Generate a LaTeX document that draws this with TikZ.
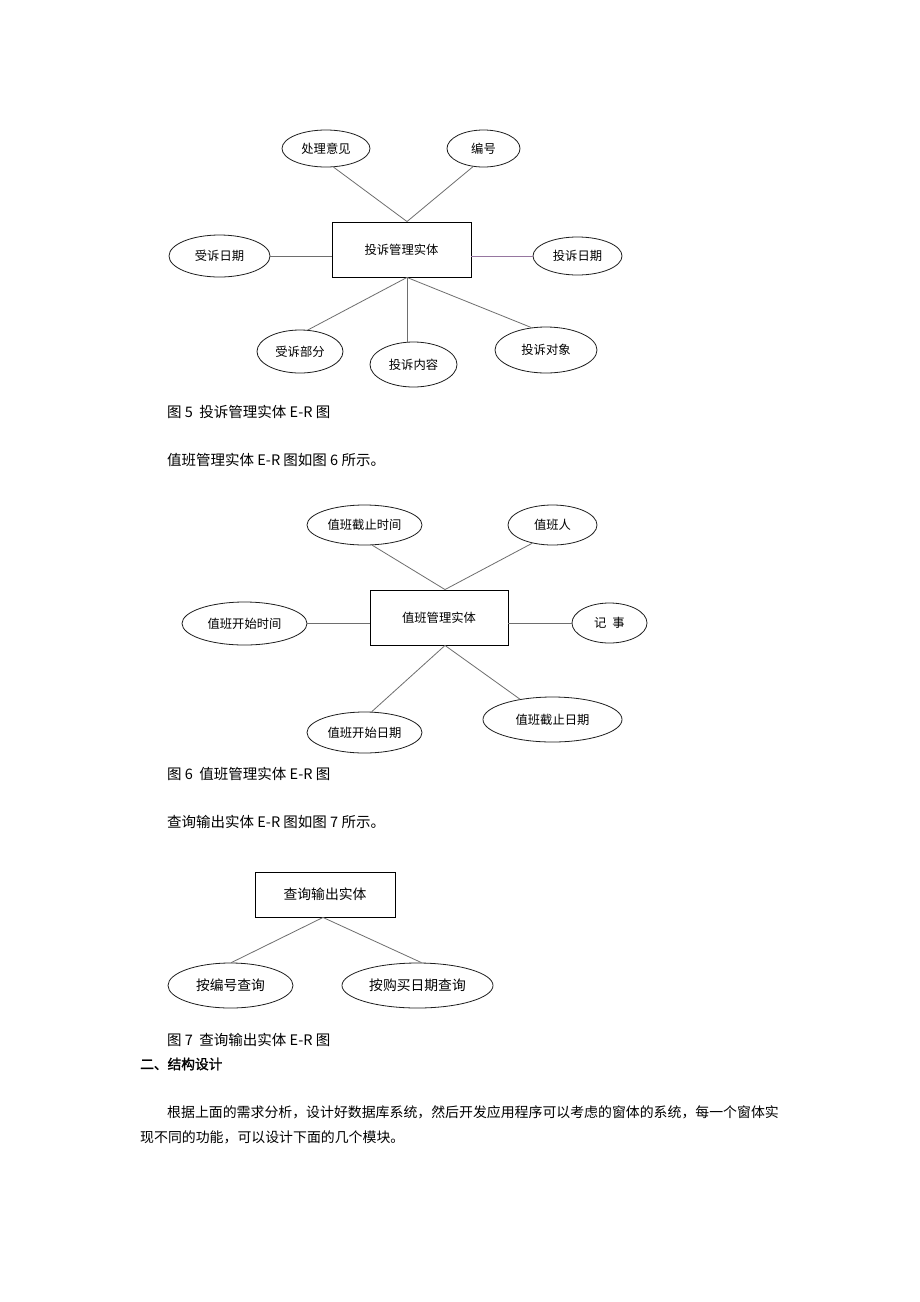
\documentclass[tikz,border=0pt]{standalone}
\usepackage{fontspec}
\setmainfont{Noto Sans CJK SC}
\newfontfamily\headfont{Noto Sans CJK SC}[FakeBold=1.5]
\usetikzlibrary{shapes.geometric,calc}
\definecolor{linegray}{RGB}{110,110,110}
\definecolor{linepurple}{RGB}{150,118,160}
\definecolor{edgeblack}{RGB}{30,30,30}
\begin{document}
\begin{tikzpicture}[x=1pt,y=-1pt,
  attr/.style={draw=edgeblack, ellipse, inner sep=0pt, line width=0.8pt},
  ent/.style={draw=black, rectangle, inner sep=0pt, line width=0.9pt},
  conn/.style={draw=linegray, line width=0.8pt},
  fa/.style={font=\fontsize{12.3}{14}\selectfont},
  fb/.style={font=\fontsize{13.8}{16}\selectfont},
  body/.style={anchor=west, inner sep=0pt, font=\fontsize{14.5}{17}\selectfont},
  para/.style={anchor=west, inner sep=0pt, font=\fontsize{13.9}{17}\selectfont}]
\fill[white] (0,0) rectangle (920,1302);
\useasboundingbox (0,0) rectangle (920,1302);

% ---------- Figure 5 ----------
\node[ent, minimum width=139pt, minimum height=55pt, fa] (r5) at (401.5,249.5) {投诉管理实体};
\node[attr, minimum width=88pt, minimum height=37pt, fa] (a1) at (326,148.5) {处理意见};
\node[attr, minimum width=73pt, minimum height=37pt, fa] (a2) at (483.5,148.5) {编号};
\node[attr, minimum width=101pt, minimum height=42pt, fa] (a3) at (219.5,256) {受诉日期};
\node[attr, minimum width=89pt, minimum height=38pt, fa] (a4) at (577.5,256) {投诉日期};
\node[attr, minimum width=86pt, minimum height=43pt, fa] (a5) at (300,351.5) {受诉部分};
\node[attr, minimum width=87pt, minimum height=45pt, fa] (a6) at (413.5,364.5) {投诉内容};
\node[attr, minimum width=102pt, minimum height=46pt, fa] (a7) at (546,350) {投诉对象};
\coordinate (j5t) at ($(r5.north)+(5.5,0)$);
\coordinate (j5b) at ($(r5.south)+(5.5,0)$);
\draw[conn] (a1.-68) -- (j5t) -- (a2.-120);
\draw[conn] (a3.east) -- (a3.east -| r5.west);
\draw[conn, draw=linepurple] (a4.west) -- (a4.west -| r5.east);
\draw[conn] (a5.70) -- (j5b) -- (a7.123);
\draw[conn] (j5b) -- (j5b |- a6.north);

\node[body] (cap5) at (167,412) {图 5\ \ 投诉管理实体 E-R 图};
\node[body] (t6) at (167,460) {值班管理实体 E-R 图如图 6 所示。};

% ---------- Figure 6 ----------
\node[ent, minimum width=138pt, minimum height=55pt, fa] (r6) at (439,617.5) {值班管理实体};
\node[attr, minimum width=115pt, minimum height=40pt, fa] (b1) at (364.5,525) {值班截止时间};
\node[attr, minimum width=89pt, minimum height=40pt, fa] (b2) at (552.5,525) {值班人};
\node[attr, minimum width=125pt, minimum height=43pt, fa] (b3) at (244.5,623.5) {值班开始时间};
\node[attr, minimum width=75pt, minimum height=40pt, fa] (b4) at (609.5,623) {记\hspace{6pt}事};
\node[attr, minimum width=115pt, minimum height=41pt, fa] (b5) at (364.5,732.5) {值班开始日期};
\node[attr, minimum width=139pt, minimum height=45pt, fa] (b6) at (552.5,719.5) {值班截止日期};
\coordinate (j6t) at ($(r6.north)+(6,0)$);
\coordinate (j6b) at ($(r6.south)+(6,0)$);
\draw[conn] (b1.-69) -- (j6t) -- (b2.-138);
\draw[conn] (b3.east) -- (b3.east -| r6.west);
\draw[conn] (b4.west) -- (b4.west -| r6.east);
\draw[conn] (b5.71) -- (j6b) -- (b6.148);

\node[body] (cap6) at (167,774) {图 6\ \ 值班管理实体 E-R 图};
\node[body] (t7) at (167,822) {查询输出实体 E-R 图如图 7 所示。};

% ---------- Figure 7 ----------
\node[ent, minimum width=140pt, minimum height=45pt, fb] (r7) at (325,894.5) {查询输出实体};
\node[attr, minimum width=125pt, minimum height=45pt, fb] (c1) at (230.5,985.5) {按编号查询};
\node[attr, minimum width=151pt, minimum height=45pt, fb] (c2) at (417.5,985.5) {按购买日期查询};
\coordinate (j7) at ($(r7.south)+(-2,0)$);
\draw[conn] (c1.88) -- (j7) -- (c2.80);

\node[body] (cap7) at (167,1040) {图 7\ \ 查询输出实体 E-R 图};
\node[body, font=\fontsize{13.7}{16}\headfont] (h2) at (140,1064) {二、结构设计};
\node[para] (p1) at (167,1112) {根据上面的需求分析，设计好数据库系统，然后开发应用程序可以考虑的窗体的系统，每一个窗体实};
\node[para] (p2) at (140,1137) {现不同的功能，可以设计下面的几个模块。};
\end{tikzpicture}
\end{document}
